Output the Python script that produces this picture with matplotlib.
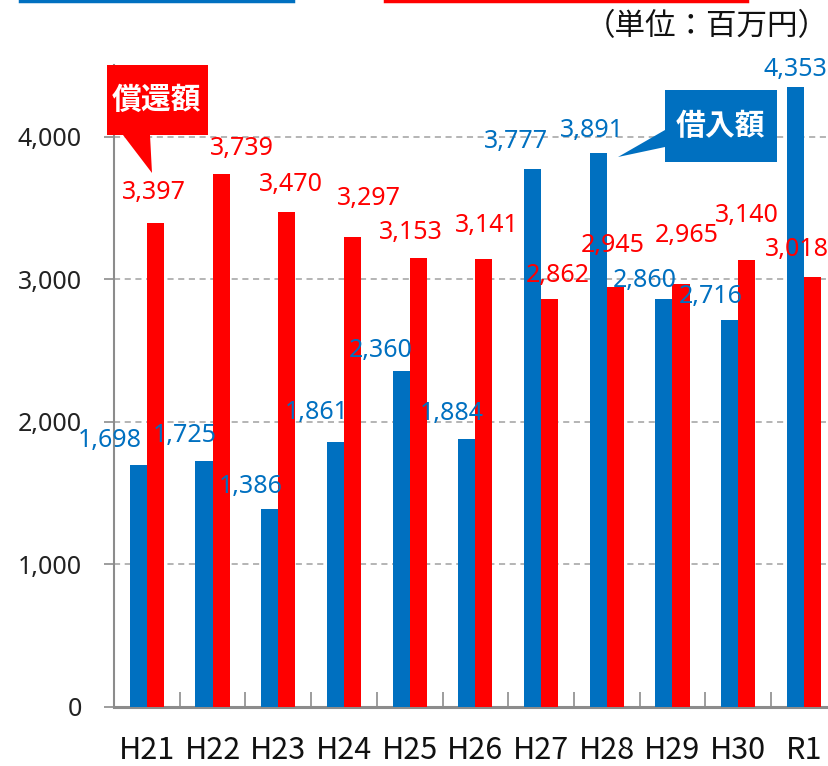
import numpy as np
import matplotlib
matplotlib.use("Agg")
from matplotlib import pyplot as plt
from matplotlib import font_manager
from matplotlib.patches import Polygon
from matplotlib.lines import Line2D

# data (単位：百万円)
years = ["H21", "H22", "H23", "H24", "H25", "H26", "H27", "H28", "H29", "H30", "R1"]
borrow = [1698, 1725, 1386, 1861, 2360, 1884, 3777, 3891, 2860, 2716, 4353]   # 借入額
repay = [3397, 3739, 3470, 3297, 3153, 3141, 2862, 2945, 2965, 3140, 3018]    # 償還額

# label nudges in pixels (dx, dy from the bar top)
borrow_off = [(-29, 25), (-19, 26), (-19, 23), (-19, 29), (-20, 20), (-15, 25),
              (-17, 27), (-6, 22), (-19, 19), (-19, 23), (0, 17)]
repay_off = [(-1, 30), (21, 26), (4, 28), (16, 39), (-7, 25), (3, 34),
             (8, 24), (-3, 42), (6, 49), (0, 44), (-15, 27)]

BLUE = "#0070C0"
RED = "#FF0000"
GRAY = "#8C8C8C"
W, H = 829, 766

installed = {f.name for f in font_manager.fontManager.ttflist}
narrow = 'Liberation Sans Narrow' if 'Liberation Sans Narrow' in installed else 'Noto Sans CJK JP'

plt.rcParams['font.family'] = ['Noto Sans', 'Noto Sans CJK JP', 'DejaVu Sans']

fig = plt.figure(figsize=(W / 100, H / 100), dpi=100)

def fx(x, y):
    # pixel position -> figure fraction
    return (x / W, 1 - y / H)

ax = fig.add_axes([114 / W, 1 - 707 / H, 722.7 / W, 642 / H])

x = np.arange(len(years))
bw = 0.26
ax.bar(x - bw / 2, borrow, bw, color=BLUE, zorder=3)
ax.bar(x + bw / 2, repay, bw, color=RED, zorder=3)

for i in range(len(years)):
    ax.annotate(f"{borrow[i]:,}", (x[i] - bw / 2, borrow[i]), xytext=borrow_off[i],
                textcoords='offset pixels', ha='center', va='center',
                color=BLUE, fontsize=18, zorder=5, annotation_clip=False)
    ax.annotate(f"{repay[i]:,}", (x[i] + bw / 2, repay[i]), xytext=repay_off[i],
                textcoords='offset pixels', ha='center', va='center',
                color=RED, fontsize=18, zorder=5, annotation_clip=False)

ax.set_xlim(-0.5, len(years) - 0.5)
ax.set_ylim(0, 4505)
ax.set_yticks([0, 1000, 2000, 3000, 4000])
ax.set_yticklabels(["0", "1,000", "2,000", "3,000", "4,000"], fontsize=18, color="#222222")
ax.yaxis.grid(True, linestyle=(0, (4, 3)), color="#A0A0A0", linewidth=1.1, zorder=0)
ax.tick_params(axis='y', direction='out', length=7, color=GRAY, width=1.2, pad=16)

ax.set_xticks(x)
ax.set_xticklabels(years, fontsize=22, family=[narrow, 'DejaVu Sans'], color="#111111")
ax.tick_params(axis='x', length=0, pad=20)
ax.set_xticks(x[:-1] + 0.5, minor=True)
ax.tick_params(axis='x', which='minor', direction='in', length=11, color=GRAY, width=1.2)

for s in ['top', 'right']:
    ax.spines[s].set_visible(False)
ax.spines['left'].set_color(GRAY)
ax.spines['left'].set_linewidth(1.5)
ax.spines['bottom'].set_color(GRAY)
ax.spines['bottom'].set_linewidth(2.2)

# cut-off legend lines at the top
fig.add_artist(Line2D([20 / W, 293 / W], [1 - 1 / H, 1 - 1 / H], color=BLUE, linewidth=2.5))
fig.add_artist(Line2D([385 / W, 747 / W], [1 - 1 / H, 1 - 1 / H], color=RED, linewidth=2.5))

# unit
fig.text(*fx(829, 27), "（単位：百万円）", ha='right', va='center', fontsize=22,
         family=['Noto Sans CJK JP'], color="#111111")

# callouts
red_call = [(107, 65), (208, 65), (208, 135), (150, 135), (152, 173), (123, 135), (107, 135)]
fig.add_artist(Polygon([fx(*p) for p in red_call], closed=True, transform=fig.transFigure,
                       facecolor=RED, edgecolor='none', zorder=10))
fig.text(*fx(157, 100), "償還額", ha='center', va='center', fontsize=21.5, fontweight='bold',
         color='white', family=['Noto Sans CJK JP'], zorder=11)

blue_call = [(665, 90), (777, 90), (777, 162), (665, 162), (665, 147), (618, 157), (665, 130)]
fig.add_artist(Polygon([fx(*p) for p in blue_call], closed=True, transform=fig.transFigure,
                       facecolor=BLUE, edgecolor='none', zorder=10))
fig.text(*fx(721, 126), "借入額", ha='center', va='center', fontsize=21.5, fontweight='bold',
         color='white', family=['Noto Sans CJK JP'], zorder=11)

fig.savefig("out.png", dpi=100)
